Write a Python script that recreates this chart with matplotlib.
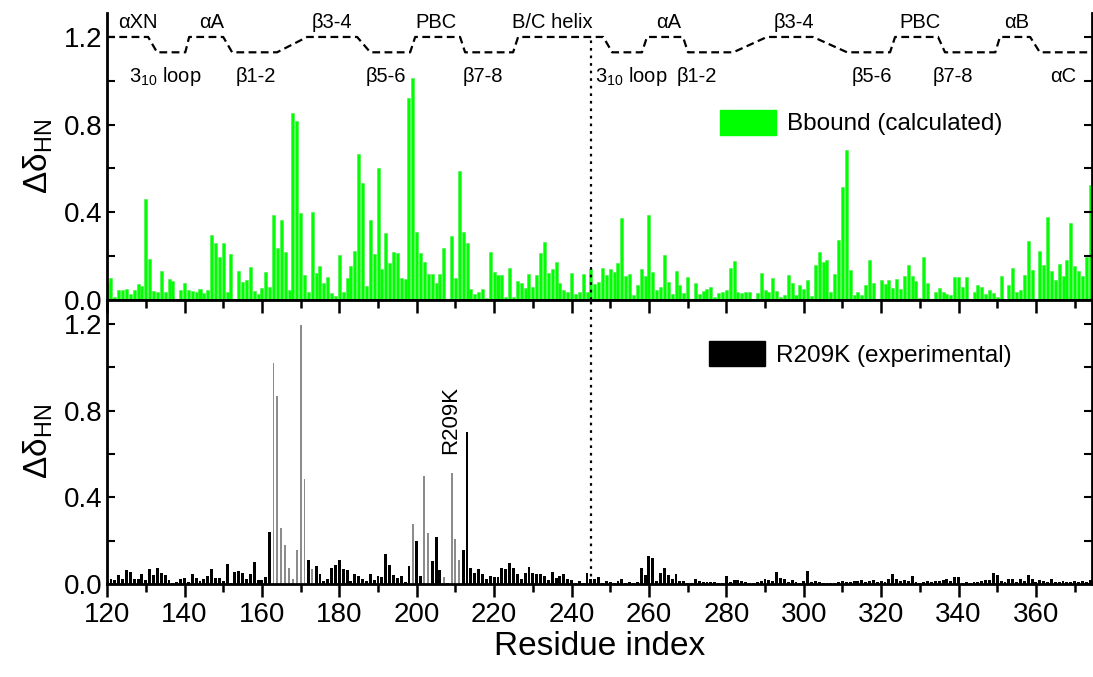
import numpy as np
import matplotlib
matplotlib.use("Agg")
import matplotlib.pyplot as plt
from matplotlib.patches import Patch
from matplotlib.ticker import MultipleLocator

plt.rcParams['font.family'] = ['Liberation Sans', 'DejaVu Sans']
plt.rcParams['mathtext.fontset'] = 'custom'
plt.rcParams['mathtext.rm'] = 'Liberation Sans'
plt.rcParams['mathtext.it'] = 'Liberation Sans:italic'

# residue numbering of both series
first_residue = 120

# Bbound (calculated), residues 120..375
calc = [
    0.076, 0.10, 0.012, 0.043, 0.046, 0.05, 0.027, 0.046, 0.072, 0.064,
    0.462, 0.186, 0.041, 0.035, 0.131, 0.037, 0.094, 0.087, 0.005, 0.046,
    0.078, 0.046, 0.040, 0.037, 0.049, 0.03, 0.046, 0.297, 0.259, 0.195,
    0.259, 0.037, 0.21, 0.0, 0.13, 0.084, 0.091, 0.152, 0.041, 0.029,
    0.055, 0.128, 0.058, 0.389, 0.238, 0.363, 0.219, 0.044, 0.853, 0.815,
    0.396, 0.114, 0.038, 0.40, 0.123, 0.155, 0.078, 0.104, 0.032, 0.02,
    0.204, 0.038, 0.10, 0.155, 0.224, 0.667, 0.533, 0.064, 0.366, 0.209,
    0.602, 0.14, 0.305, 0.168, 0.219, 0.216, 0.10, 0.096, 0.923, 1.015,
    0.311, 0.212, 0.172, 0.12, 0.12, 0.076, 0.12, 0.236, 0.0, 0.291,
    0.10, 0.59, 0.31, 0.258, 0.05, 0.027, 0.038, 0.049, 0.008, 0.219,
    0.126, 0.114, 0.114, 0.012, 0.146, 0.014, 0.087, 0.078, 0.053, 0.119,
    0.058, 0.114, 0.215, 0.265, 0.122, 0.139, 0.174, 0.075, 0.047, 0.035,
    0.123, 0.026, 0.038, 0.119, 0.035, 0.139, 0.073, 0.082, 0.145, 0.114,
    0.14, 0.126, 0.169, 0.376, 0.111, 0.116, 0.021, 0.07, 0.142, 0.108,
    0.386, 0.128, 0.046, 0.06, 0.204, 0.082, 0.026, 0.134, 0.069, 0.032,
    0.104, 0.0, 0.079, 0.027, 0.04, 0.05, 0.06, 0.012, 0.032, 0.037,
    0.046, 0.145, 0.177, 0.037, 0.032, 0.037, 0.037, 0.0, 0.03, 0.122,
    0.046, 0.034, 0.098, 0.04, 0.015, 0.021, 0.113, 0.079, 0.023, 0.07,
    0.049, 0.09, 0.018, 0.158, 0.218, 0.174, 0.18, 0.035, 0.119, 0.274,
    0.514, 0.686, 0.137, 0.023, 0.034, 0.021, 0.066, 0.181, 0.079, 0.0,
    0.091, 0.073, 0.093, 0.055, 0.094, 0.05, 0.107, 0.161, 0.108, 0.085,
    0.008, 0.197, 0.075, 0.0, 0.037, 0.053, 0.038, 0.026, 0.021, 0.105,
    0.104, 0.06, 0.105, 0.0, 0.037, 0.066, 0.06, 0.026, 0.047, 0.032,
    0.012, 0.108, 0.0, 0.067, 0.146, 0.038, 0.046, 0.114, 0.267, 0.137,
    0.0, 0.224, 0.158, 0.379, 0.133, 0.091, 0.165, 0.11, 0.18, 0.352,
    0.154, 0.134, 0.11, 0.198, 0.526, 0.2,
]

# R209K (experimental), residues 120..375
expt = [
    .014, .025, .018, .04, .025, .064, .057, .023, .025, .046,
    .018, .067, .043, .074, .052, .04, .018, .003, .011, .021,
    .026, .009, .044, .026, .014, .021, .037, .067, .028, .028,
    .014, .09, .003, .057, .061, .052, .025, .048, .101, .017,
    .018, .031, .242, 1.019, .866, .256, .182, .075, .021, .158,
    1.194, .483, .11, .067, .083, .046, .014, .025, .075, .087,
    .11, .07, .064, .015, .046, .037, .021, .014, .044, .018,
    .035, .031, .139, .087, .041, .029, .037, .011, .083, .276,
    .199, .037, .497, .233, .106, .215, .064, .034, .003, .513,
    .208, .11, .159, .699, .075, .052, .07, .044, .021, .037,
    .032, .032, .075, .067, .095, .075, .044, .021, .049, .08,
    .052, .046, .046, .037, .018, .055, .029, .037, .044, .025,
    .018, .006, .014, .003, .049, .025, .025, .034, .003, .012,
    .009, .006, .014, .021, .006, .008, .006, .008, .074, .041,
    .13, .121, .015, .052, .072, .041, .025, .046, .015, .014,
    .006, .006, .021, .012, .011, .011, .009, .009, .006, .006,
    .038, .009, .018, .018, .014, .011, .006, .006, .011, .015,
    .021, .018, .015, .054, .026, .023, .008, .018, .011, .006,
    .015, .06, .011, .015, .008, .004, .004, .004, .004, .011,
    .014, .008, .011, .014, .014, .018, .008, .015, .018, .011,
    .015, .011, .021, .044, .021, .015, .018, .015, .038, .008,
    .006, .011, .014, .011, .014, .014, .018, .021, .015, .031,
    .031, .006, .011, .006, .008, .008, .015, .018, .018, .049,
    .041, .015, .008, .021, .021, .008, .021, .015, .041, .021,
    .008, .018, .014, .008, .021, .011, .008, .014, .011, .011,
    .014, .008, .015, .011, .018, .01,
]

# residues drawn in grey in the experimental panel
grey_residues = [163, 164, 165, 166, 167, 168, 169, 170, 171, 173,
                 199, 202, 203, 207, 209, 210, 211]

# secondary structure trace (residue, level)
ss_x = [120, 130.6, 132.9, 140.2, 141.2, 150, 152.3, 163.9, 171.7, 184.6,
        188, 198.3, 199.6, 211.2, 212.5, 224.9, 226.2, 248.2, 250.5, 258.2,
        259.5, 268.8, 270.1, 281.8, 290.5, 302.4, 311.2, 322.3, 323.6, 334.7,
        336.5, 349.5, 350.7, 358.5, 361, 375]
ss_hi, ss_lo = 1.2, 1.13
ss_y = [ss_hi, ss_hi, ss_lo, ss_lo, ss_hi, ss_hi, ss_lo, ss_lo, ss_hi, ss_hi,
        ss_lo, ss_lo, ss_hi, ss_hi, ss_lo, ss_lo, ss_hi, ss_hi, ss_lo, ss_lo,
        ss_hi, ss_hi, ss_lo, ss_lo, ss_hi, ss_hi, ss_lo, ss_lo, ss_hi, ss_hi,
        ss_lo, ss_lo, ss_hi, ss_hi, ss_lo, ss_lo]

upper_labels = ["αXN", "αA", "β3-4", "PBC", "B/C helix", "αA", "β3-4", "PBC", "αB"]
upper_pos = [128, 147, 178, 205, 235, 265, 297.5, 330, 355]
lower_labels = ["3$_{10}$ loop", "β1-2", "β5-6", "β7-8",
                "3$_{10}$ loop", "β1-2", "β5-6", "β7-8", "αC"]
lower_pos = [135, 158.5, 192, 217, 255.5, 272.5, 317.5, 338.5, 367]

domain_split = 245
mutation_residue = 208.7

res = np.arange(first_residue, first_residue + len(calc))
res_e = np.arange(first_residue, first_residue + len(expt))
is_grey = np.isin(res_e, grey_residues)

fig = plt.figure(figsize=(10.93, 6.77), dpi=100)
ax1 = fig.add_axes([0.098, 0.557, 0.9015, 0.424])
ax2 = fig.add_axes([0.098, 0.1374, 0.9015, 0.4195])

green = '#00ff00'

# top panel
ax1.bar(res, calc, width=0.78, color=green, edgecolor='#44f044', linewidth=0.4)
ax1.plot(ss_x, ss_y, color='black', lw=1.6, linestyle=(0, (3.5, 2)))
ax1.vlines(domain_split, 0, 1.2, colors='black', lw=1.6,
           linestyles=[(0, (1.2, 2.2))])
for lab, xp in zip(upper_labels, upper_pos):
    ax1.text(xp, 1.265, lab, ha='center', va='center', fontsize=14.5)
for lab, xp in zip(lower_labels, lower_pos):
    ax1.text(xp, 1.02, lab, ha='center', va='center', fontsize=14.5)

# bottom panel
ax2.bar(res_e[~is_grey], np.array(expt)[~is_grey], width=0.75, color='black')
ax2.bar(res_e[is_grey], np.array(expt)[is_grey], width=0.5, color='#8c8c8c')
ax2.axvline(domain_split, color='black', lw=1.6, linestyle=(0, (1.2, 2.2)))
ax2.text(mutation_residue, 0.6, "R209K", rotation=90, ha='center', va='bottom',
         fontsize=16)

for ax in (ax1, ax2):
    ax.set_xlim(120, 374.6)
    ax.set_ylim(0, 1.31)
    ax.yaxis.set_major_locator(MultipleLocator(0.4))
    ax.yaxis.set_minor_locator(MultipleLocator(0.2))
    ax.xaxis.set_major_locator(MultipleLocator(20))
    ax.xaxis.set_minor_locator(MultipleLocator(10))
    ax.yaxis.set_major_formatter(matplotlib.ticker.FormatStrFormatter('%.1f'))
    ax.tick_params(axis='y', which='both', direction='in', left=True, right=True,
                   length=6, width=1.5, labelsize=20)
    ax.set_ylabel("Δδ$_{\\mathrm{HN}}$", fontsize=24, labelpad=6)
    for s in ax.spines.values():
        s.set_linewidth(2)

ax1.spines['top'].set_visible(False)
ax1.tick_params(axis='x', which='both', bottom=False, labelbottom=False)
ax2.tick_params(axis='x', which='major', direction='out', length=9, width=1.8,
                top=True, labelsize=20, pad=4)
ax2.tick_params(axis='x', which='minor', direction='out', length=5.5, width=1.8,
                top=True)
# ticks on the shared border point down into the lower panel
for t in ax2.xaxis.get_major_ticks() + ax2.xaxis.get_minor_ticks():
    t.tick2line.set_marker(matplotlib.markers.TICKDOWN)
ax2.set_xlabel("Residue index", fontsize=24, labelpad=2)

ax1.legend(handles=[Patch(color=green, label="Bbound (calculated)")],
           loc='upper left', bbox_to_anchor=(0.6585, 0.838),
           bbox_transform=fig.transFigure, frameon=False, fontsize=17.5,
           handlelength=2.3, handleheight=1.2, handletextpad=0.45,
           borderpad=0, borderaxespad=0)
ax2.legend(handles=[Patch(color='black', label="R209K (experimental)")],
           loc='upper left', bbox_to_anchor=(0.6485, 0.496),
           bbox_transform=fig.transFigure, frameon=False, fontsize=17.5,
           handlelength=2.3, handleheight=1.2, handletextpad=0.45,
           borderpad=0, borderaxespad=0)

fig.savefig("out.png", dpi=100)
